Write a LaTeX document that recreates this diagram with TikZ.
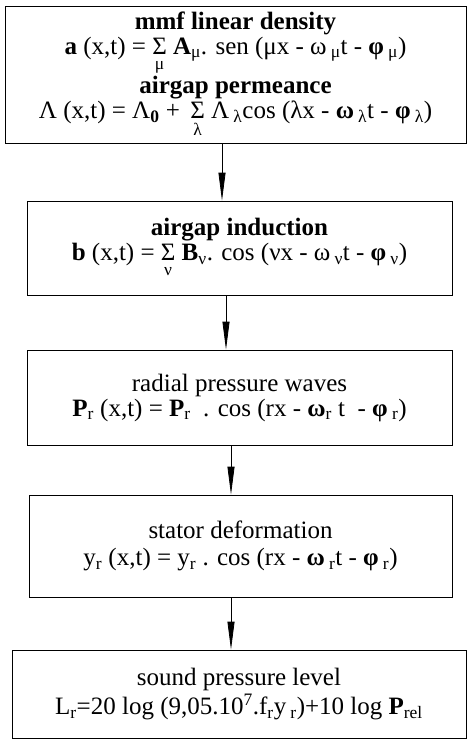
\documentclass[tikz,border=0pt]{standalone}
\usepackage{amsmath}
\usepackage{fontspec}
\setmainfont{Liberation Serif}
\usetikzlibrary{arrows.meta}
\newcommand{\Sumunder}[1]{$\mathop{\text{Σ}}\limits_{\text{#1}}$}
\newcommand{\lsub}[1]{\textsubscript{#1}}

\begin{document}
\begin{tikzpicture}[x=1pt, y=-1pt,
        box/.style={draw, line width=0.8pt, align=center, inner sep=0pt, font=\fontsize{25}{25}\selectfont},
        flow/.style={line width=0.8pt, -{Triangle[length=28pt,width=7pt]}}]
    \useasboundingbox (0,0) rectangle (467,740);
    \node[box, minimum width=461pt, minimum height=137pt] (density) at (235.5,74.5) {\textbf{mmf linear density}\\
        \textbf{a} (x,t) = \Sumunder{μ} \textbf{A}\lsub{μ}. sen (μx - ω\,\lsub{μ}t - \textbf{φ}\,\lsub{μ})\\
        \textbf{airgap permeance}\\
        Λ (x,t) = Λ\lsub{\textbf{0}} + \,\Sumunder{λ} Λ\,\lsub{λ}cos (λx - \textbf{ω}\,\lsub{λ}t - \textbf{φ}\,\lsub{λ})};
    \node[box, minimum width=425pt, minimum height=94pt] (induction) at (239.5,248) {\textbf{airgap induction}\\
        \textbf{b} (x,t) = \Sumunder{ν} \textbf{B}\lsub{ν}. cos (νx - ω\,\lsub{ν}t - \textbf{φ}\,\lsub{ν})};
    \node[box, minimum width=425pt, minimum height=95pt] (pressure) at (239.5,397.5) {radial pressure waves\\
        \textbf{P}\lsub{r} (x,t) = \textbf{P}\lsub{r}\ \ . cos (rx - \textbf{ω}\lsub{r} t\ \ - \textbf{φ}\,\lsub{r})};
    \node[box, minimum width=423pt, minimum height=102pt] (stator) at (240.5,546) {stator deformation\\[2pt]
        y\lsub{r} (x,t) = y\lsub{r} . cos (rx - \textbf{ω}\,\lsub{r}t - \textbf{φ}\,\lsub{r})};
    \node[box, minimum width=454pt, minimum height=88pt] (sound) at (239,694) {sound pressure level\\[2pt]
        L\lsub{r}=20 log (9,05.10\textsuperscript{7}.f\lsub{r}y\,\lsub{r})+10 log \textbf{P}\lsub{rel}};

    % arrows between the stages
    \draw[flow] (density.south -| 222,0) -- (induction.north -| 222,0);
    \draw[flow] (induction.south -| 226,0) -- (pressure.north -| 226,0);
    \draw[flow] (pressure.south -| 231,0) -- (stator.north -| 231,0);
    \draw[flow] (stator.south -| 231,0) -- (sound.north -| 231,0);
\end{tikzpicture}
\end{document}
